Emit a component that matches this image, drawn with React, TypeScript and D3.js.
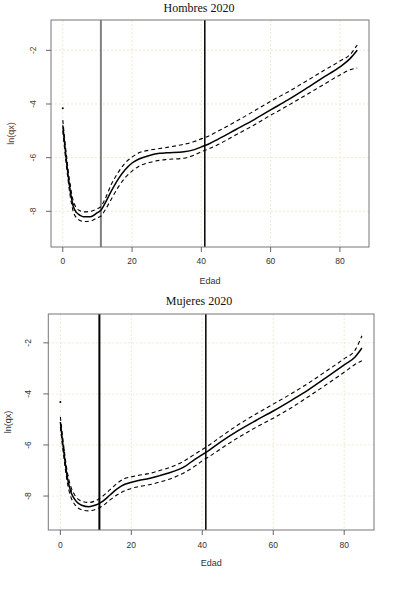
import React from "react";
import * as d3 from "d3";

// ---------- DATA ----------
const ages = [0, 1, 2, 3, 4, 5, 6, 8, 10, 11, 12, 14, 16, 18, 20, 22, 25, 28, 30, 35, 38, 40, 42, 45, 50, 55, 60, 65, 70, 75, 80, 83, 85];

const maleFit = [-4.8, -6.05, -7.1, -7.8, -8.05, -8.15, -8.2, -8.2, -8.05, -7.96, -7.75, -7.25, -6.8, -6.45, -6.2, -6.05, -5.92, -5.84, -5.82, -5.78, -5.7, -5.6, -5.5, -5.3, -4.95, -4.6, -4.22, -3.85, -3.45, -3.03, -2.62, -2.3, -2.0];
const maleUpper = [-4.6, -5.85, -6.9, -7.6, -7.88, -7.98, -8.02, -8.0, -7.9, -7.82, -7.6, -7.0, -6.55, -6.2, -5.98, -5.82, -5.72, -5.66, -5.62, -5.5, -5.4, -5.3, -5.2, -5.0, -4.65, -4.28, -3.9, -3.55, -3.17, -2.78, -2.4, -2.15, -1.8];
const maleLower = [-5.0, -6.25, -7.3, -8.0, -8.25, -8.34, -8.38, -8.36, -8.24, -8.18, -8.0, -7.55, -7.1, -6.75, -6.5, -6.32, -6.18, -6.1, -6.07, -6.02, -5.9, -5.78, -5.68, -5.5, -5.15, -4.8, -4.42, -4.06, -3.68, -3.3, -2.92, -2.72, -2.66];

const femaleFit = [-5.1, -6.3, -7.3, -7.85, -8.12, -8.28, -8.36, -8.42, -8.35, -8.29, -8.2, -7.96, -7.72, -7.55, -7.46, -7.39, -7.31, -7.2, -7.12, -6.85, -6.55, -6.38, -6.2, -5.9, -5.45, -5.05, -4.67, -4.26, -3.83, -3.35, -2.86, -2.56, -2.2];
const femaleUpper = [-4.9, -6.1, -7.1, -7.65, -7.95, -8.12, -8.2, -8.25, -8.18, -8.1, -8.0, -7.75, -7.5, -7.32, -7.25, -7.19, -7.12, -7.0, -6.92, -6.62, -6.35, -6.18, -6.0, -5.7, -5.22, -4.8, -4.4, -4.0, -3.57, -3.1, -2.62, -2.3, -1.72];
const femaleLower = [-5.3, -6.5, -7.5, -8.05, -8.32, -8.47, -8.54, -8.58, -8.52, -8.46, -8.38, -8.15, -7.95, -7.8, -7.7, -7.63, -7.56, -7.45, -7.37, -7.08, -6.82, -6.62, -6.45, -6.17, -5.72, -5.32, -4.95, -4.55, -4.1, -3.63, -3.15, -2.85, -2.7];

const obsAges = [0, 1, 2, 3];
const maleObs = [-4.16, -5.95, -7.0, -7.75];
const femaleObs = [-4.32, -6.2, -7.2, -7.8];

const cutAges = [11, 41];
const xTicks = [0, 20, 40, 60, 80];
const yTicks = [-2, -4, -6, -8];
const xDomain: [number, number] = [-3.4, 88.4];
const yDomain: [number, number] = [-9.33, -0.87];

type PanelProps = {
  title: string;
  fit: number[];
  upper: number[];
  lower: number[];
  obs: number[];
  left: number; top: number; right: number; bottom: number;
  titleX: number; titleY: number;
  ylabX: number; ytickX: number;
  xtickY: number; xlabY: number;
  yTextColor: string;
  cutColors: string[];
  cutWidths: number[];
};

function Panel(p: PanelProps) {
  const x = d3.scaleLinear().domain(xDomain).range([p.left, p.right]);
  const y = d3.scaleLinear().domain(yDomain).range([p.bottom, p.top]);
  const mk = (vals: number[]) =>
    d3.line<number>().x((_, i) => x(ages[i])).y((v) => y(v)).curve(d3.curveMonotoneX)(vals) || "";
  const sans = "Liberation Sans, Arial, sans-serif";
  return (
    <g>
      <text x={p.titleX} y={p.titleY} textAnchor="middle" fontFamily="Liberation Serif, Times New Roman, serif" fontSize={12} fill="#111">{p.title}</text>
      {/* grid */}
      {xTicks.map((t) => (
        <line key={"gx" + t} x1={x(t)} x2={x(t)} y1={p.top} y2={p.bottom} stroke="#f2e8d0" strokeWidth={1} strokeDasharray="2,2" />
      ))}
      {yTicks.map((t) => (
        <line key={"gy" + t} x1={p.left} x2={p.right} y1={y(t)} y2={y(t)} stroke="#f2e8d0" strokeWidth={1} strokeDasharray="2,2" />
      ))}
      {/* cut lines */}
      {cutAges.map((a, i) => (
        <line key={"c" + a} x1={x(a)} x2={x(a)} y1={p.top} y2={p.bottom} stroke={p.cutColors[i]} strokeWidth={p.cutWidths[i]} />
      ))}
      {/* curves */}
      <path d={mk(p.upper)} fill="none" stroke="#000" strokeWidth={1.1} strokeDasharray="4,3" />
      <path d={mk(p.lower)} fill="none" stroke="#000" strokeWidth={1.1} strokeDasharray="4,3" />
      <path d={mk(p.fit)} fill="none" stroke="#000" strokeWidth={1.5} />
      {p.obs.map((v, i) => (
        <circle key={"o" + i} cx={x(obsAges[i])} cy={y(v)} r={1} fill="#000" />
      ))}
      {/* box */}
      <rect x={p.left} y={p.top} width={p.right - p.left} height={p.bottom - p.top} fill="none" stroke="#777" strokeWidth={1} />
      {/* x axis */}
      {xTicks.map((t) => (
        <g key={"xt" + t}>
          <line x1={x(t)} x2={x(t)} y1={p.bottom} y2={p.bottom + 5} stroke="#666" />
          <text x={x(t)} y={p.xtickY} textAnchor="middle" fontFamily={sans} fontSize={8.5} fill="#333">{t}</text>
        </g>
      ))}
      <text x={(p.left + p.right) / 2} y={p.xlabY} textAnchor="middle" fontFamily={sans} fontSize={9} fill="#333">Edad</text>
      {/* y axis */}
      {yTicks.map((t) => (
        <g key={"yt" + t}>
          <line x1={p.left - 5} x2={p.left} y1={y(t)} y2={y(t)} stroke="#666" />
          <text transform={`translate(${p.ytickX},${y(t)}) rotate(-90)`} textAnchor="middle" dy="0.35em" fontFamily={sans} fontSize={8.5} fill={p.yTextColor}>{t}</text>
        </g>
      ))}
      <text transform={`translate(${p.ylabX},${(p.top + p.bottom) / 2}) rotate(-90)`} textAnchor="middle" dy="0.35em" fontFamily={sans} fontSize={9} fill={p.yTextColor}>ln(qx)</text>
    </g>
  );
}

export default function App() {
  return (
    <svg width={406} height={603} style={{ position: "absolute", left: 0, top: 0, background: "#fff" }}>
      <rect x={0} y={0} width={406} height={603} fill="#fff" />
      <Panel
        title="Hombres 2020" fit={maleFit} upper={maleUpper} lower={maleLower} obs={maleObs}
        left={51} top={20} right={369} bottom={247}
        titleX={199} titleY={12} ylabX={11} ytickX={33} xtickY={264} xlabY={284}
        yTextColor="#5a3b2a" cutColors={["#808080", "#000"]} cutWidths={[2, 1.5]}
      />
      <Panel
        title="Mujeres 2020" fit={femaleFit} upper={femaleUpper} lower={femaleLower} obs={femaleObs}
        left={48.3} top={314} right={374} bottom={530}
        titleX={199} titleY={305} ylabX={8} ytickX={28} xtickY={548} xlabY={566}
        yTextColor="#333" cutColors={["#000", "#000"]} cutWidths={[2, 1.5]}
      />
    </svg>
  );
}
